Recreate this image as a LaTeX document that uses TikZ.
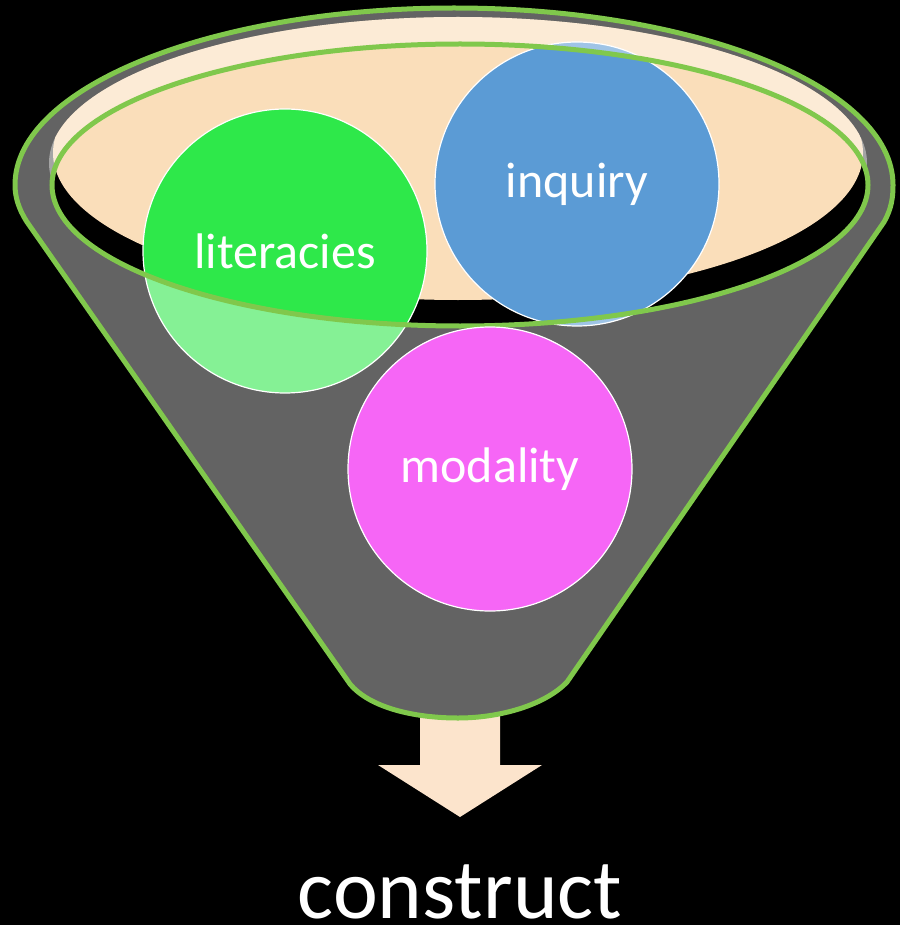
\documentclass[tikz,border=0pt]{standalone}
\usepackage{fontspec}
\setmainfont{Carlito}
\definecolor{rimgreen}{RGB}{128,200,76}
\definecolor{funnelgray}{RGB}{99,99,99}
\definecolor{peach}{RGB}{250,222,186}
\definecolor{arrowpeach}{RGB}{252,228,204}
\definecolor{litgreen}{RGB}{46,232,74}
\definecolor{inqblue}{RGB}{91,155,213}
\definecolor{modpink}{RGB}{246,102,246}
\tikzset{
  bubble/.style={circle, minimum size=284pt, inner sep=0pt, draw=white, line width=1.2pt,
    text=white, font=\fontsize{50}{56}\selectfont},
  rimline/.style={draw=rimgreen, line width=5pt},
  veil/.style={fill=white, fill opacity=0.42, even odd rule}
}
\begin{document}
\begin{tikzpicture}[x=1pt,y=1pt]
\useasboundingbox (0,0) rectangle (900,-925);
\fill[black] (0,0) rectangle (900,-925);
% arrow below funnel
\fill[arrowpeach] (420,-705) -- (500,-705) -- (500,-765) -- (542,-765) -- (460,-817) -- (378,-765) -- (420,-765) -- cycle;
% funnel body
\path[fill=funnelgray, rimline, line join=round]
  (350,-684) -- (27,-222) .. controls (18,-208) and (15,-196) .. (15,-185)
  arc[start angle=180, end angle=0, x radius=439, y radius=177]
  .. controls (893,-196) and (892,-208) .. (884,-222) -- (567,-682)
  .. controls (545,-705) and (500,-718) .. (458,-718)
  .. controls (415,-718) and (370,-708) .. cycle;
% opening
\fill[black] (460,-185) ellipse [x radius=408, y radius=141];
\begin{scope}
  \clip (458,-163) ellipse [x radius=409, y radius=146];
  \fill[peach] (458,-153) ellipse [x radius=405, y radius=147];
  \fill[veil] (0,0) rectangle (900,-925) (460,-185) ellipse [x radius=408, y radius=141];
\end{scope}
% circles in the opening
\node[bubble, fill=litgreen] (lit) at (285,-251) {literacies};
\node[bubble, fill=inqblue] (inq) at (577,-184) {inquiry};
\begin{scope}
  \clip (285,-251) circle (142);
  \fill[veil] (0,0) rectangle (900,-925) (460,-185) ellipse [x radius=408, y radius=141];
\end{scope}
\begin{scope}
  \clip (577,-184) circle (142);
  \fill[veil] (0,0) rectangle (900,-925) (460,-185) ellipse [x radius=408, y radius=141];
\end{scope}
% inner rim
\draw[rimline] (460,-185) ellipse [x radius=408, y radius=141];
% lower circle
\node[bubble, fill=modpink] (mod) at (490,-469) {modality};
% result label
\node[text=white, font=\fontsize{85}{92}\selectfont, anchor=base, inner sep=0pt, text depth=0pt] (construct) at (460,-918) {construct};
\end{tikzpicture}
\end{document}
